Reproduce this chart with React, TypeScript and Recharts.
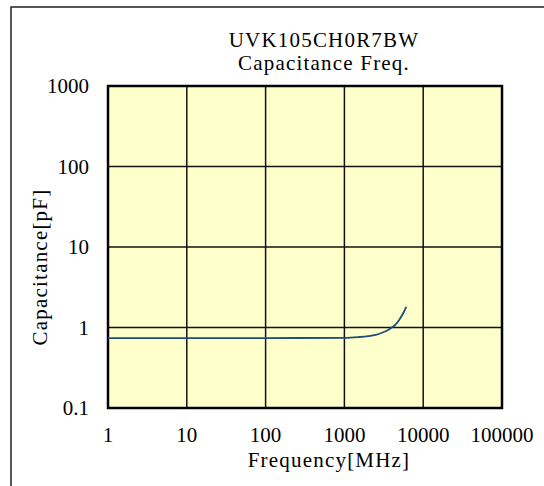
import React from 'react';
import { LineChart, Line, XAxis, YAxis, CartesianGrid, ReferenceArea } from 'recharts';

// frequency in MHz, capacitance in pF
const freqMHz = [1, 10, 100, 1000, 1500, 2000, 2500, 3000, 3500, 4000, 4500, 5000, 5500, 6100];
const capPF = [0.74, 0.74, 0.74, 0.745, 0.76, 0.78, 0.81, 0.86, 0.92, 1.0, 1.1, 1.26, 1.47, 1.81];

const xTicks = [1, 10, 100, 1000, 10000, 100000];
const yTicks = [0.1, 1, 10, 100, 1000];

const title = 'UVK105CH0R7BW';
const subtitle = 'Capacitance Freq.';
const xLabel = 'Frequency[MHz]';
const yLabel = 'Capacitance[pF]';

const data = freqMHz.map((f, i) => ({ freq: f, cap: capPF[i] }));

const font = '"Liberation Serif", "Times New Roman", serif';
const tickStyle = { fontFamily: font, fontSize: 21, fill: '#000' };
const labelStyle = { ...tickStyle, letterSpacing: 1.2 };

const App: React.FC = () => {
  return (
    <div style={{ position: 'absolute', left: 0, top: 0, width: 544, height: 486, background: '#fff' }}>
      <LineChart
        width={544}
        height={486}
        data={data}
        margin={{ top: 86, right: 42, left: 48, bottom: 48 }}
      >
        <rect x={11} y={7} width={700} height={700} fill="none" stroke="#222" strokeWidth={1.5} />
        <CartesianGrid stroke="#111" strokeWidth={1.5} fill="#FFFFCC" fillOpacity={1} />
        <XAxis
          dataKey="freq"
          type="number"
          scale="log"
          domain={[1, 100000]}
          ticks={xTicks}
          allowDataOverflow
          axisLine={false}
          tickLine={false}
          tickSize={0}
          tickMargin={19}
          height={30}
          tick={tickStyle}
          interval={0}
        />
        <YAxis
          type="number"
          scale="log"
          domain={[0.1, 1000]}
          ticks={yTicks}
          allowDataOverflow
          axisLine={false}
          tickLine={false}
          tickSize={0}
          tickMargin={19}
          width={60}
          tick={tickStyle}
          interval={0}
          tickFormatter={(v: number) => String(v)}
        />
        <ReferenceArea x1={1} x2={100000} y1={0.1} y2={1000} fill="none" stroke="#000" strokeWidth={2.5} ifOverflow="visible" />
        <Line
          type="monotone"
          dataKey="cap"
          stroke="#1F4E79"
          strokeWidth={1.8}
          dot={false}
          isAnimationActive={false}
        />
        <text x={324} y={47} textAnchor="middle" style={labelStyle}>{title}</text>
        <text x={324} y={70} textAnchor="middle" style={labelStyle}>{subtitle}</text>
        <text x={329} y={467} textAnchor="middle" style={labelStyle}>{xLabel}</text>
        <text x={47} y={267} textAnchor="middle" transform="rotate(-90 47 267)" style={labelStyle}>{yLabel}</text>
      </LineChart>
    </div>
  );
};

export default App;
